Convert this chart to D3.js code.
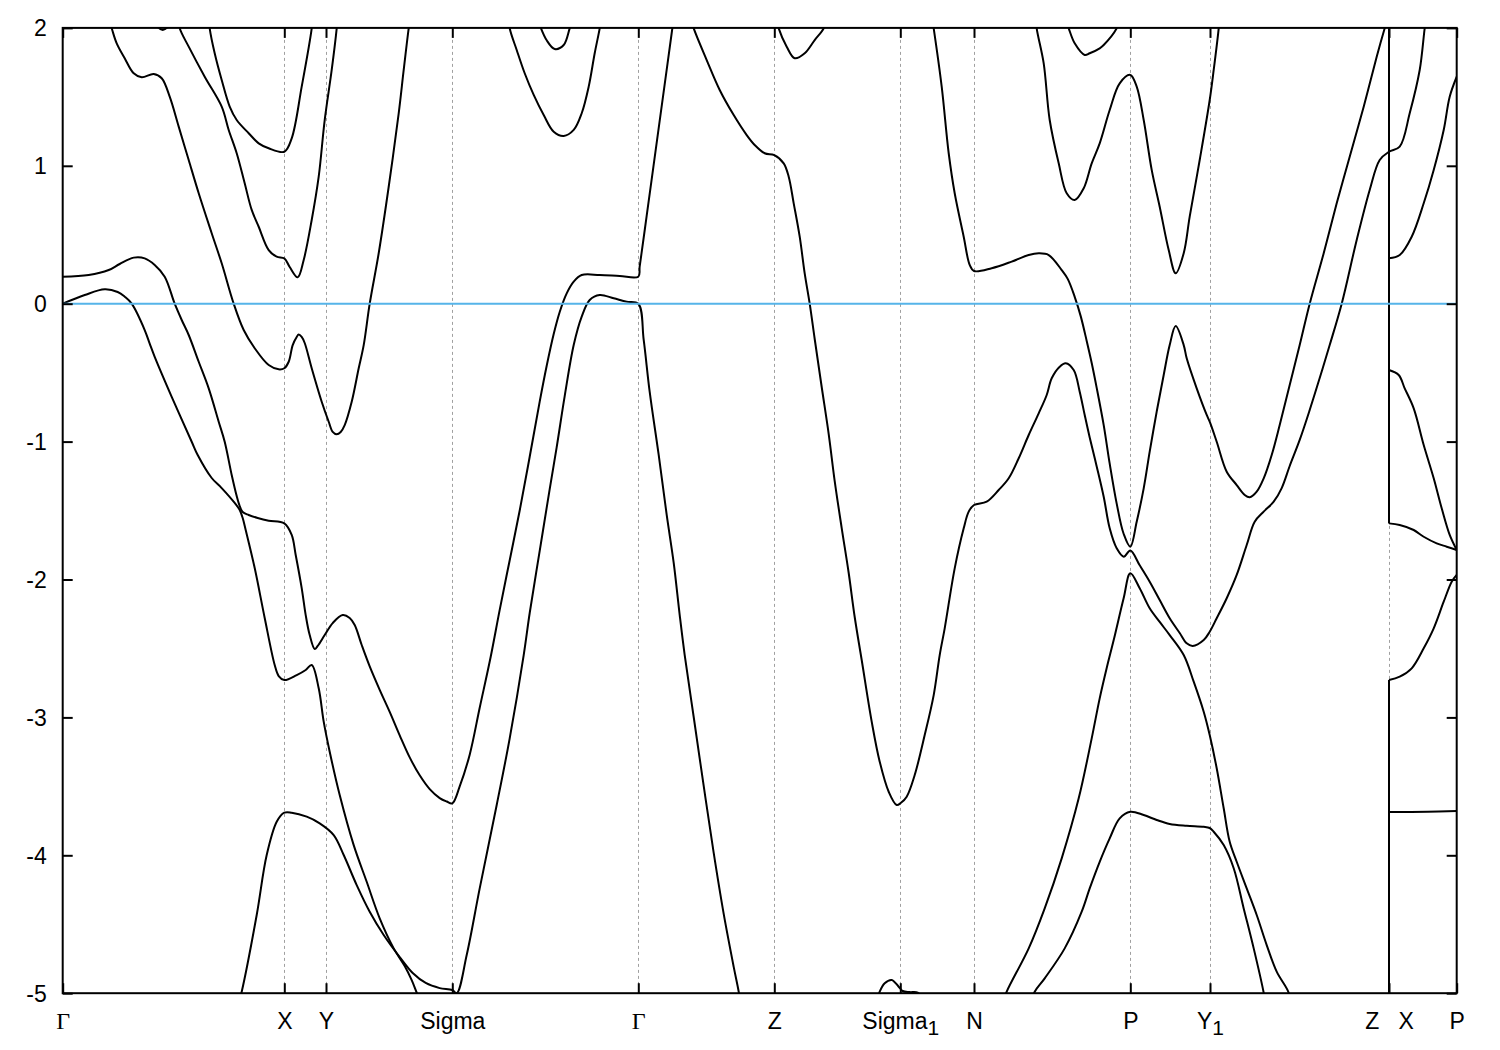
<!DOCTYPE html>
<html>
<head>
<meta charset="utf-8">
<script src="https://cdnjs.cloudflare.com/ajax/libs/d3/7.8.5/d3.min.js"></script>
<style>
  html, body { margin: 0; padding: 0; background: #fff; }
  svg { display: block; }
</style>
</head>
<body>
<script>
// ---- high-symmetry points (k path coordinate) and labels ----
const kPoints = [0, 2.216, 2.633, 3.896, 5.756, 7.116, 8.376, 9.113, 10.676, 11.473, 13.263, 13.94];
const kLabels = ["Γ", "X", "Y", "Sigma", "Γ", "Z", "Sigma_1", "N", "P", "Y_1", "Z   X", "P"];
const energyTicks = [-5, -4, -3, -2, -1, 0, 1, 2];
const fermiLevel = 0;

// ---- bands: [k, E (eV)] ----
const bandA = [[0,0],[0.22,0.063],[0.42,0.104],[0.55,0.085],[0.62,0.051],[0.69,0],[0.82,-0.191],[0.87,-0.290],[0.92,-0.385],[1.09,-0.675],[1.29,-1.001],[1.35,-1.097],[1.49,-1.264],[1.59,-1.337],[1.72,-1.445],[1.77,-1.496],[1.80,-1.554],[1.83,-1.641],[1.92,-1.917],[2.02,-2.279],[2.12,-2.620],[2.16,-2.700],[2.216,-2.729],[2.34,-2.693],[2.43,-2.656],[2.49,-2.620],[2.56,-2.789],[2.61,-3.031],[2.67,-3.249],[2.77,-3.563],[2.91,-3.926],[3.04,-4.192],[3.17,-4.457],[3.31,-4.675],[3.42,-4.803],[3.49,-4.905],[3.55,-5.013],[3.62,-5.12]];
const bandM = [[1.74,-5.12],[1.79,-4.989],[1.94,-4.433],[2.04,-3.998],[2.14,-3.757],[2.216,-3.691],[2.29,-3.691],[2.44,-3.720],[2.57,-3.768],[2.71,-3.853],[2.81,-3.998],[2.94,-4.216],[3.07,-4.409],[3.21,-4.578],[3.37,-4.738],[3.50,-4.854],[3.63,-4.926],[3.77,-4.963],[3.896,-4.977],[3.94,-5.0],[4.04,-4.723],[4.17,-4.240],[4.34,-3.635],[4.47,-3.152],[4.61,-2.548],[4.67,-2.243],[4.77,-1.793],[4.87,-1.344],[4.94,-1.040],[5.02,-0.670],[5.11,-0.300],[5.19,-0.094],[5.27,0.027],[5.37,0.063],[5.51,0.039],[5.64,0.015],[5.756,0],[5.81,-0.263],[5.87,-0.640],[5.96,-1.097],[6.04,-1.532],[6.11,-1.880],[6.17,-2.258],[6.22,-2.548],[6.31,-2.997],[6.41,-3.497],[6.51,-3.983],[6.61,-4.425],[6.71,-4.809],[6.76,-4.989],[6.78,-5.09]];
const bandC = [[0,0.196],[0.26,0.208],[0.46,0.244],[0.57,0.288],[0.71,0.334],[0.82,0.329],[0.92,0.281],[1.02,0.196],[1.12,0],[1.19,-0.118],[1.26,-0.227],[1.36,-0.421],[1.46,-0.614],[1.56,-0.856],[1.62,-1.001],[1.69,-1.242],[1.74,-1.395],[1.77,-1.467],[1.80,-1.511],[1.86,-1.532],[1.95,-1.554],[2.06,-1.574],[2.216,-1.593],[2.29,-1.677],[2.33,-1.822],[2.39,-2.062],[2.43,-2.258],[2.47,-2.403],[2.52,-2.504],[2.55,-2.482],[2.62,-2.403],[2.70,-2.316],[2.80,-2.258],[2.87,-2.279],[2.92,-2.330],[2.99,-2.475],[3.07,-2.630],[3.17,-2.800],[3.27,-2.960],[3.37,-3.130],[3.47,-3.290],[3.57,-3.420],[3.67,-3.520],[3.77,-3.585],[3.84,-3.610],[3.896,-3.623],[3.97,-3.500],[4.07,-3.270],[4.17,-2.930],[4.28,-2.560],[4.37,-2.220],[4.47,-1.860],[4.57,-1.500],[4.67,-1.110],[4.77,-0.710],[4.84,-0.450],[4.91,-0.220],[4.97,-0.060],[5.04,0.075],[5.11,0.160],[5.19,0.208],[5.37,0.208],[5.57,0.201],[5.756,0.196],[5.77,0.270],[5.84,0.638],[5.94,1.168],[6.04,1.697],[6.09,1.963],[6.12,2.12]];
const bandD = [[0.45,2.09],[0.49,1.997],[0.54,1.888],[0.62,1.780],[0.71,1.671],[0.79,1.642],[0.91,1.666],[0.99,1.635],[1.07,1.501],[1.16,1.284],[1.26,1.042],[1.36,0.801],[1.49,0.511],[1.59,0.293],[1.71,0],[1.81,-0.191],[1.92,-0.323],[2.06,-0.445],[2.16,-0.476],[2.216,-0.468],[2.26,-0.421],[2.30,-0.300],[2.34,-0.241],[2.36,-0.223],[2.39,-0.241],[2.42,-0.285],[2.49,-0.468],[2.59,-0.711],[2.66,-0.856],[2.70,-0.930],[2.74,-0.947],[2.78,-0.930],[2.82,-0.880],[2.89,-0.711],[2.96,-0.468],[3.01,-0.300],[3.07,0],[3.16,0.366],[3.26,0.848],[3.36,1.381],[3.41,1.695],[3.46,1.997],[3.48,2.09]];
const bandE = [[1.15,2.09],[1.17,1.997],[1.26,1.864],[1.42,1.646],[1.59,1.429],[1.66,1.260],[1.74,1.091],[1.82,0.873],[1.89,0.680],[1.96,0.558],[2.06,0.389],[2.14,0.341],[2.216,0.329],[2.27,0.266],[2.35,0.191],[2.41,0.317],[2.49,0.607],[2.56,0.921],[2.62,1.332],[2.69,1.695],[2.74,1.997],[2.75,2.09]];
const bandG = [[1.46,2.09],[1.47,1.997],[1.52,1.816],[1.59,1.622],[1.67,1.429],[1.74,1.332],[1.86,1.236],[1.96,1.163],[2.06,1.127],[2.216,1.102],[2.29,1.199],[2.39,1.574],[2.49,1.997],[2.50,2.09]];
const bandH = [[0.93,2.02],[1.0,1.985],[1.07,2.02]];
const bandI = [[4.46,2.09],[4.47,1.997],[4.54,1.840],[4.62,1.671],[4.71,1.514],[4.81,1.368],[4.91,1.247],[5.01,1.216],[5.11,1.260],[5.19,1.381],[5.26,1.574],[5.32,1.816],[5.37,1.997],[5.39,2.09]];
const bandJ = [[4.76,2.04],[4.84,1.910],[4.92,1.847],[5.01,1.876],[5.07,1.997],[5.10,2.06]];
const bandL = [[6.27,2.09],[6.31,1.997],[6.44,1.767],[6.57,1.550],[6.71,1.368],[6.84,1.223],[6.92,1.151],[7.02,1.091],[7.116,1.078],[7.21,1.018],[7.26,0.921],[7.31,0.728],[7.37,0.486],[7.42,0.220],[7.47,0],[7.52,-0.256],[7.59,-0.604],[7.66,-0.945],[7.72,-1.286],[7.79,-1.627],[7.86,-1.953],[7.92,-2.272],[7.99,-2.584],[8.09,-3.031],[8.17,-3.321],[8.26,-3.539],[8.34,-3.635],[8.38,-3.621],[8.44,-3.575],[8.52,-3.418],[8.62,-3.128],[8.71,-2.838],[8.77,-2.548],[8.82,-2.354],[8.92,-1.919],[9.01,-1.629],[9.06,-1.508],[9.113,-1.460],[9.24,-1.436],[9.36,-1.351],[9.46,-1.266],[9.56,-1.121],[9.66,-0.952],[9.76,-0.795],[9.84,-0.662],[9.89,-0.541],[9.97,-0.457],[10.03,-0.432],[10.11,-0.481],[10.17,-0.638],[10.22,-0.807],[10.27,-0.970],[10.34,-1.180],[10.41,-1.400],[10.47,-1.629],[10.54,-1.774],[10.61,-1.835],[10.676,-1.790],[10.77,-1.897],[10.87,-2.016],[10.97,-2.149],[11.07,-2.281],[11.17,-2.388],[11.24,-2.463],[11.30,-2.482],[11.41,-2.439],[11.47,-2.379],[11.54,-2.281],[11.64,-2.136],[11.74,-1.967],[11.84,-1.750],[11.92,-1.581],[12.01,-1.508],[12.11,-1.436],[12.19,-1.337],[12.27,-1.177],[12.37,-0.988],[12.47,-0.771],[12.57,-0.539],[12.67,-0.300],[12.79,0],[12.94,0.462],[13.07,0.825],[13.17,1.042],[13.263,1.102],[13.37,1.139],[13.47,1.381],[13.57,1.695],[13.62,1.997],[13.64,2.09]];
const bandN = [[9.39,-5.09],[9.44,-4.989],[9.66,-4.675],[9.82,-4.385],[9.99,-4.022],[10.16,-3.587],[10.29,-3.152],[10.37,-2.862],[10.44,-2.642],[10.51,-2.439],[10.61,-2.134],[10.676,-1.955],[10.77,-2.064],[10.87,-2.209],[10.97,-2.308],[11.07,-2.403],[11.21,-2.548],[11.31,-2.741],[11.41,-2.959],[11.47,-3.128],[11.54,-3.369],[11.61,-3.659],[11.67,-3.902],[11.74,-4.047],[11.84,-4.240],[11.94,-4.433],[12.04,-4.651],[12.14,-4.844],[12.26,-4.997],[12.28,-5.09]];
const bandO = [[9.67,-5.09],[9.72,-4.989],[9.82,-4.892],[10.02,-4.675],[10.19,-4.409],[10.27,-4.240],[10.37,-4.047],[10.47,-3.877],[10.57,-3.732],[10.676,-3.684],[10.81,-3.708],[10.94,-3.744],[11.07,-3.773],[11.24,-3.786],[11.41,-3.793],[11.47,-3.802],[11.51,-3.829],[11.61,-3.926],[11.71,-4.094],[11.81,-4.385],[11.91,-4.675],[12.01,-4.997],[12.03,-5.09]];
const bandP = [[8.69,2.09],[8.71,1.997],[8.79,1.574],[8.86,1.091],[8.92,0.801],[9.01,0.486],[9.07,0.281],[9.113,0.237],[9.29,0.257],[9.49,0.305],[9.66,0.353],[9.76,0.365],[9.86,0.353],[9.99,0.244],[10.05,0.180],[10.12,0.050],[10.18,-0.090],[10.24,-0.270],[10.29,-0.430],[10.34,-0.610],[10.41,-0.880],[10.47,-1.160],[10.54,-1.450],[10.61,-1.670],[10.676,-1.762],[10.74,-1.581],[10.81,-1.339],[10.87,-1.073],[10.94,-0.783],[11.01,-0.517],[11.07,-0.300],[11.13,-0.162],[11.21,-0.300],[11.24,-0.396],[11.34,-0.614],[11.44,-0.807],[11.47,-0.856],[11.54,-1.001],[11.64,-1.218],[11.74,-1.315],[11.82,-1.387],[11.87,-1.404],[11.94,-1.363],[12.01,-1.266],[12.09,-1.097],[12.17,-0.880],[12.27,-0.590],[12.37,-0.300],[12.47,0],[12.61,0.366],[12.74,0.728],[12.87,1.066],[13.01,1.429],[13.14,1.791],[13.22,1.997],[13.263,2.1],[13.263,-1.593],[13.37,-1.605],[13.51,-1.641],[13.61,-1.690],[13.74,-1.738],[13.84,-1.762],[13.94,-1.786]];
const bandQ = [[13.263,2.1],[13.263,0.329],[13.37,0.353],[13.49,0.486],[13.61,0.728],[13.71,0.970],[13.81,1.260],[13.87,1.501],[13.94,1.646]];
const bandR = [[13.263,2.1],[13.263,-0.481],[13.36,-0.517],[13.42,-0.614],[13.51,-0.759],[13.61,-1.025],[13.71,-1.266],[13.79,-1.484],[13.87,-1.677],[13.94,-1.786]];
const bandS = [[13.263,-5.12],[13.263,-2.729],[13.37,-2.705],[13.49,-2.644],[13.61,-2.499],[13.71,-2.354],[13.81,-2.161],[13.89,-2.016],[13.94,-1.967]];
const bandT = [[13.263,-5.12],[13.263,-3.686],[13.65,-3.684],[13.94,-3.679]];
const bandU = [[7.14,2.06],[7.16,1.997],[7.24,1.864],[7.32,1.780],[7.42,1.816],[7.52,1.912],[7.61,1.997],[7.63,2.06]];
const bandV = [[9.73,2.09],[9.74,1.997],[9.81,1.743],[9.87,1.332],[9.96,1.018],[10.04,0.801],[10.12,0.752],[10.21,0.837],[10.29,1.018],[10.37,1.163],[10.47,1.405],[10.57,1.598],[10.676,1.659],[10.74,1.574],[10.81,1.332],[10.89,0.970],[10.97,0.703],[11.06,0.389],[11.13,0.220],[11.21,0.366],[11.27,0.631],[11.37,1.042],[11.47,1.477],[11.51,1.695],[11.56,1.997],[11.57,2.09]];
const bandW = [[10.03,2.06],[10.06,1.997],[10.12,1.888],[10.22,1.804],[10.27,1.816],[10.37,1.852],[10.41,1.876],[10.54,1.997],[10.56,2.04]];
const bandX = [[8.13,-5.09],[8.17,-4.989],[8.22,-4.928],[8.29,-4.904],[8.36,-4.953],[8.40,-4.984],[8.47,-4.992],[8.55,-4.996],[8.60,-5.05]];

const bands = [bandA, bandM, bandC, bandD, bandE, bandG, bandH, bandI, bandJ, bandL, bandN, bandO, bandP, bandQ, bandR, bandS, bandT, bandU, bandV, bandW, bandX];

// ---- layout ----
const W = 1500, H = 1050;
const plot = { left: 62.7, right: 1456.7, top: 27.9, bottom: 993.2 };
const sans = "'Liberation Sans', Arial, sans-serif";
const serif = "'Liberation Serif', 'DejaVu Serif', serif";
const fontSize = 23;

const x = d3.scaleLinear().domain([kPoints[0], kPoints[kPoints.length - 1]]).range([plot.left, plot.right]);
const y = d3.scaleLinear().domain([energyTicks[0], energyTicks[energyTicks.length - 1]]).range([plot.bottom, plot.top]);

const svg = d3.select("body").append("svg").attr("width", W).attr("height", H);
svg.append("rect").attr("width", W).attr("height", H).attr("fill", "#fff");

svg.append("defs").append("clipPath").attr("id", "plotClip")
  .append("rect")
  .attr("x", plot.left).attr("y", plot.top)
  .attr("width", plot.right - plot.left).attr("height", plot.bottom - plot.top);

// dashed vertical grid at interior high-symmetry points
svg.append("g").selectAll("line")
  .data(kPoints.slice(1, -1))
  .join("line")
  .attr("x1", d => Math.round(x(d)) + 0.5).attr("x2", d => Math.round(x(d)) + 0.5)
  .attr("y1", plot.top).attr("y2", plot.bottom)
  .attr("stroke", "#a0a0a0").attr("stroke-width", 1)
  .attr("stroke-dasharray", "3,3");

// bands
const line = d3.line().x(d => x(d[0])).y(d => y(d[1])).curve(d3.curveCatmullRom.alpha(0.5));
const straight = d3.line().x(d => x(d[0])).y(d => y(d[1]));

function splitRuns(pts) {
  const runs = [];
  let cur = [pts[0]];
  for (let i = 1; i < pts.length; i++) {
    if (pts[i][0] === pts[i - 1][0]) {
      if (cur.length > 1) runs.push({ pts: cur, smooth: true });
      runs.push({ pts: [pts[i - 1], pts[i]], smooth: false });
      cur = [pts[i]];
    } else {
      cur.push(pts[i]);
    }
  }
  if (cur.length > 1) runs.push({ pts: cur, smooth: true });
  return runs;
}

const gBands = svg.append("g").attr("clip-path", "url(#plotClip)");
bands.forEach(b => {
  splitRuns(b).forEach(r => {
    gBands.append("path")
      .attr("d", r.smooth ? line(r.pts) : straight(r.pts))
      .attr("fill", "none")
      .attr("stroke", "#000")
      .attr("stroke-width", 2)
      .attr("stroke-linejoin", "round");
  });
});

// Fermi level
svg.append("line")
  .attr("x1", plot.left).attr("x2", plot.right)
  .attr("y1", y(fermiLevel)).attr("y2", y(fermiLevel))
  .attr("stroke", "#56b4e9").attr("stroke-width", 2);

// axes
const yAxisL = d3.axisLeft(y).tickValues(energyTicks).tickSize(-10).tickPadding(16).tickFormat(d => String(d));
const gyL = svg.append("g").attr("transform", `translate(${plot.left},0)`).call(yAxisL);
gyL.select(".domain").remove();
gyL.selectAll(".tick line").attr("stroke", "#000").attr("stroke-width", 2);
gyL.selectAll(".tick text").style("font-size", fontSize + "px").style("font-family", sans)
  .attr("fill", "#000").attr("dy", "0.34em");

const yAxisR = d3.axisRight(y).tickValues(energyTicks).tickSize(-10).tickFormat("");
const gyR = svg.append("g").attr("transform", `translate(${plot.right},0)`).call(yAxisR);
gyR.select(".domain").remove();
gyR.selectAll(".tick line").attr("stroke", "#000").attr("stroke-width", 2);

const xAxisT = d3.axisTop(x).tickValues(kPoints).tickSize(-10).tickFormat("");
const gxT = svg.append("g").attr("transform", `translate(0,${plot.top})`).call(xAxisT);
gxT.select(".domain").remove();
gxT.selectAll(".tick line").attr("stroke", "#000").attr("stroke-width", 2);

const xAxisB = d3.axisBottom(x).tickValues(kPoints).tickSize(-10).tickPadding(19).tickFormat((d, i) => kLabels[i]);
const gxB = svg.append("g").attr("transform", `translate(0,${plot.bottom})`).call(xAxisB);
gxB.select(".domain").remove();
gxB.selectAll(".tick line").attr("stroke", "#000").attr("stroke-width", 2);
gxB.selectAll(".tick text").each(function (d, i) {
  const t = d3.select(this);
  const lab = kLabels[i];
  t.text(null).style("font-size", fontSize + "px").attr("fill", "#000").attr("dy", "0.71em");
  if (lab === "Γ") {
    t.style("font-family", serif).style("font-size", "24px").text(lab);
  } else if (lab.includes("_")) {
    const [main, sub] = lab.split("_");
    t.style("font-family", sans);
    t.append("tspan").text(main);
    t.append("tspan").attr("dy", 6).style("font-size", "21px").text(sub);
  } else {
    t.style("font-family", sans).style("white-space", "pre").text(lab);
  }
});

// border
svg.append("rect")
  .attr("x", plot.left).attr("y", plot.top)
  .attr("width", plot.right - plot.left).attr("height", plot.bottom - plot.top)
  .attr("fill", "none").attr("stroke", "#000").attr("stroke-width", 2);
</script>
</body>
</html>
